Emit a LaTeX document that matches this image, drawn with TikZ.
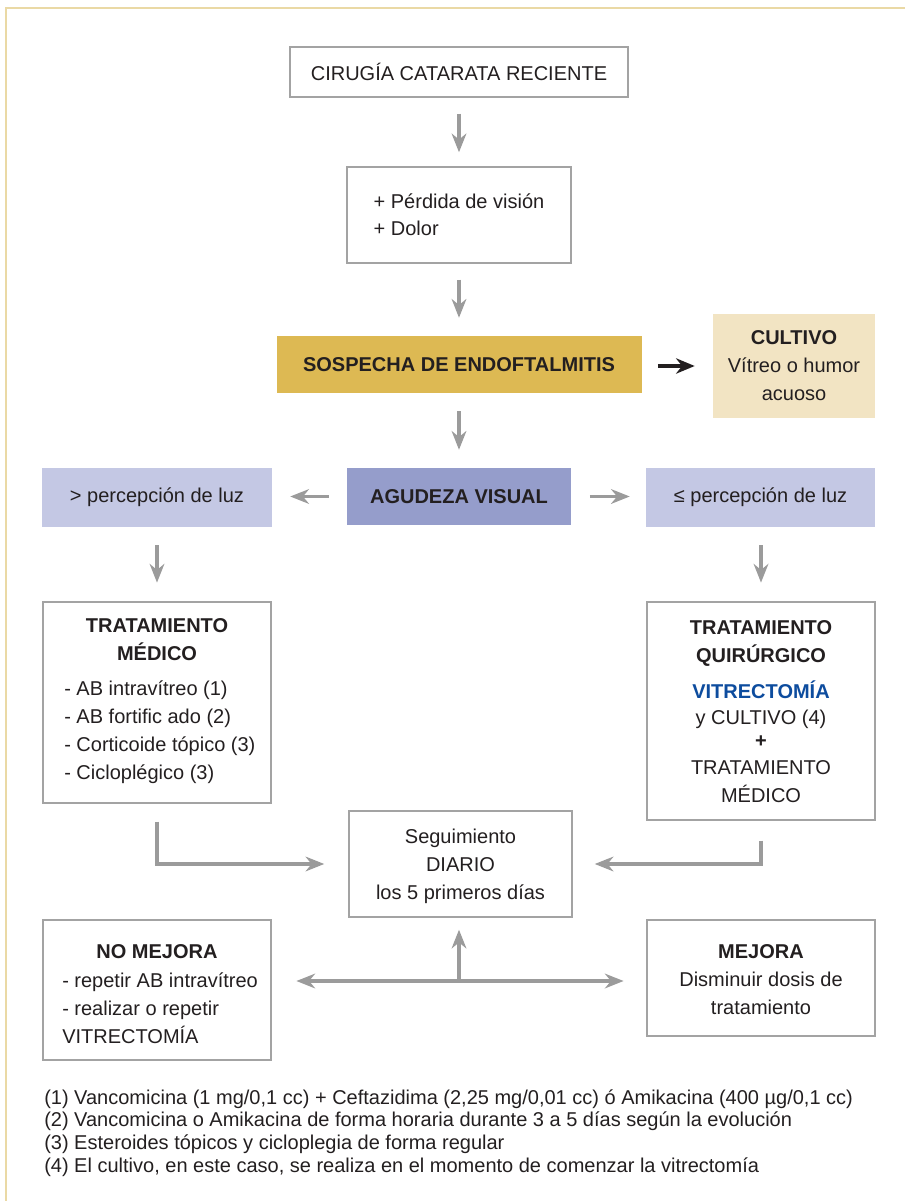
\documentclass[tikz,border=0pt]{standalone}
\usepackage{fontspec}
\setmainfont{Liberation Sans}
\usetikzlibrary{arrows.meta}
\definecolor{txt}{HTML}{231F20}
\definecolor{boxgray}{HTML}{A3A3A3}
\definecolor{arrgray}{HTML}{9B9B9B}
\definecolor{gold}{HTML}{DDB953}
\definecolor{cream}{HTML}{F2E4C3}
\definecolor{violet}{HTML}{959DCB}
\definecolor{lilac}{HTML}{C4C8E4}
\definecolor{vblue}{HTML}{0D4C9E}
\definecolor{frame}{HTML}{EAD9A5}
\begin{document}
\begin{tikzpicture}[x=0.75pt,y=-0.75pt,
  every node/.style={text=txt},
  font=\fontsize{15}{21}\selectfont,
  box/.style={draw=boxgray, line width=1.1pt, fill=white, align=center, inner sep=0pt},
  fillbox/.style={fill=#1, align=center, inner sep=0pt},
  txtnode/.style={inner sep=0pt},
  arr/.style={draw=arrgray, line width=2.3pt, -{Stealth[length=14pt,width=11pt,inset=4.5pt]}},
  arrboth/.style={draw=arrgray, line width=2.3pt, {Stealth[length=14pt,width=11pt,inset=4.5pt]}-{Stealth[length=14pt,width=11pt,inset=4.5pt]}},
  blackarr/.style={draw=txt, line width=2.8pt, -{Stealth[length=14pt,width=11.5pt,inset=4.5pt]}}
]
\useasboundingbox (0,0) rectangle (905,1201);
% frame
\draw[frame, line width=1.2pt] (6,1201) -- (6,8) -- (905,8);

% boxes
\node[box, minimum width=338*0.75pt, minimum height=50*0.75pt] (cir) at (459,72) {CIRUGÍA CATARATA RECIENTE};
\node[box, minimum width=224*0.75pt, minimum height=96*0.75pt, align=left] (perd) at (459,215) {+ Pérdida de visión\\[-0.5pt]+ Dolor};
\node[fillbox=gold, minimum width=365*0.75pt, minimum height=57*0.75pt] (sosp) at (459,364.5) {\textbf{SOSPECHA DE ENDOFTALMITIS}};
\node[fillbox=cream, minimum width=162*0.75pt, minimum height=104*0.75pt] (cult) at (794,366) {\textbf{CULTIVO}\\Vítreo o humor\\acuoso};
\node[fillbox=violet, minimum width=224*0.75pt, minimum height=57*0.75pt] (agu) at (459,496.5) {\textbf{AGUDEZA VISUAL}};
\node[fillbox=lilac, minimum width=230*0.75pt, minimum height=59*0.75pt] (pl) at (157,497.5) {> percepción de luz};
\node[fillbox=lilac, minimum width=229*0.75pt, minimum height=59*0.75pt] (pr) at (760.5,497.5) {≤ percepción de luz};
\node[box, minimum width=228*0.75pt, minimum height=201*0.75pt] (tm) at (157,702.5) {};
\node[box, minimum width=228*0.75pt, minimum height=218*0.75pt] (tq) at (761,711) {};
\node[box, minimum width=223*0.75pt, minimum height=106*0.75pt] (seg) at (460.5,864) {};
\node[box, minimum width=228*0.75pt, minimum height=140*0.75pt] (nm) at (157,990) {};
\node[box, minimum width=228*0.75pt, minimum height=116*0.75pt] (mj) at (761,978) {};

% texts inside boxes
\node[txtnode, align=center] (segtxt) at (460.5,866) {Seguimiento\\DIARIO\\los 5 primeros días};
\node[txtnode, align=center] (mjtxt) at (761,980) {\textbf{MEJORA}\\Disminuir dosis de\\tratamiento};
\node[txtnode, align=center] (tmtitle) at (157,640) {\textbf{TRATAMIENTO}\\\textbf{MÉDICO}};
\node[txtnode, align=left, anchor=west] (tmlist) at (64,732) {- AB intravítreo (1)\\- AB fortific ado (2)\\- Corticoide tópico (3)\\- Cicloplégico (3)};
\node[txtnode, align=center] (tqtitle) at (761,643) {\textbf{TRATAMIENTO}\\\textbf{QUIRÚRGICO}};
\node[txtnode, text=vblue] (tqvit) at (761,690) {\textbf{VITRECTOMÍA}};
\node[txtnode] (tqcult) at (761,719) {y CULTIVO (4)};
\node[txtnode] (tqplus) at (761,742) {\textbf{+}};
\node[txtnode, align=center] (tqmed) at (761,782) {TRATAMIENTO\\MÉDICO};
\node[txtnode] (nmtitle) at (157,952) {\textbf{NO MEJORA}};
\node[txtnode, align=left, anchor=west] (nmlist) at (62,1008) {- repetir AB intravítreo\\- realizar o repetir\\VITRECTOMÍA};

% footnotes
\node[txtnode, align=left, anchor=west, font=\fontsize{15}{17}\selectfont] (notes) at (44,1133) {(1) Vancomicina (1 mg/0,1 cc) + Ceftazidima (2,25 mg/0,01 cc) ó Amikacina (400 µg/0,1 cc)\\(2) Vancomicina o Amikacina de forma horaria durante 3 a 5 días según la evolución\\(3) Esteroides tópicos y cicloplegia de forma regular\\(4) El cultivo, en este caso, se realiza en el momento de comenzar la vitrectomía};

% connectors
\draw[arr, shorten <=12pt, shorten >=10.5pt] (cir.south) -- (cir.south |- perd.north);
\draw[arr, shorten <=12pt, shorten >=13.5pt] (perd.south) -- (perd.south |- sosp.north);
\draw[arr, shorten <=13.5pt, shorten >=13.5pt] (sosp.south) -- (sosp.south |- agu.north);
\draw[blackarr, shorten <=12pt, shorten >=13.5pt] (sosp.east |- cult.west) -- (cult.west);
\draw[arr, shorten <=13.5pt, shorten >=13.5pt] (agu.west) -- (agu.west -| pl.east);
\draw[arr, shorten <=14pt, shorten >=12pt] (agu.east) -- (agu.east -| pr.west);
\draw[arr, shorten <=13.5pt, shorten >=14pt] (pl.south) -- (tm.north);
\draw[arr, shorten <=13.5pt, shorten >=14pt] (pr.south -| tq.north) -- (tq.north);
\draw[arr, shorten <=13.5pt, shorten >=18pt] (tm.south) |- (seg.west);
\draw[arr, shorten <=15pt, shorten >=16.5pt] (tq.south) |- (seg.east);
\coordinate (hub) at (459,981);
\draw[arrboth, shorten <=18.5pt, shorten >=17pt] (hub -| nm.east) -- (hub -| mj.west);
\draw[arr, shorten >=9pt] (hub) -- (hub |- seg.south);
\end{tikzpicture}
\end{document}
